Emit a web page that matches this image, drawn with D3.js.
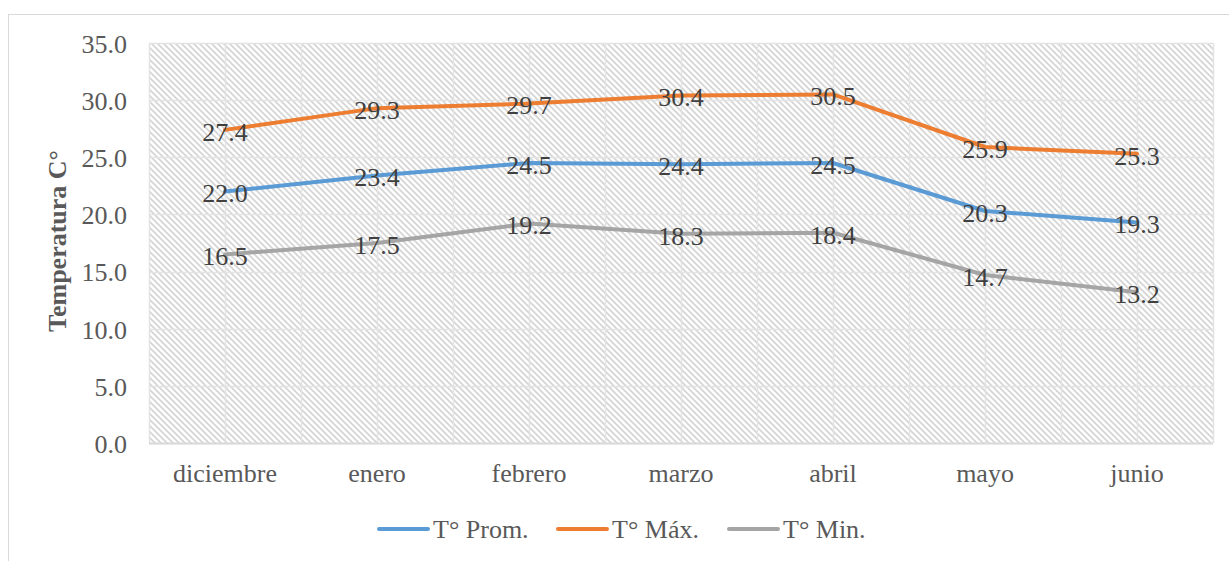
<!DOCTYPE html>
<html>
<head>
  <meta charset="utf-8">
  <style>
    body { margin: 0; background: #fff; }
    svg, svg text { font-family: 'Liberation Serif', serif; }
  </style>
</head>
<body>
  <div id="chart"></div>
  <script src="https://d3js.org/d3.v7.min.js"></script>
  <script>
    var months = ['diciembre', 'enero', 'febrero', 'marzo', 'abril', 'mayo', 'junio'];
    var tProm = [22.0, 23.4, 24.5, 24.4, 24.5, 20.3, 19.3];
    var tMax = [27.4, 29.3, 29.7, 30.4, 30.5, 25.9, 25.3];
    var tMin = [16.5, 17.5, 19.2, 18.3, 18.4, 14.7, 13.2];
    var yTicks = [0, 5, 10, 15, 20, 25, 30, 35];

    var series = [
      { name: 'T° Prom.', values: tProm, color: '#5b9bd5' },
      { name: 'T° Máx.', values: tMax, color: '#ed7d31' },
      { name: 'T° Min.', values: tMin, color: '#a5a5a5' }
    ];

    var width = 1229, height = 561;
    var plot = { left: 149, right: 1213, top: 43, bottom: 443 };
    var fontSize = '26px';
    var fontFam = "'Liberation Serif', serif";

    var svg = d3.select('#chart').append('svg')
      .attr('width', width)
      .attr('height', height)
      .style('font-family', fontFam);

    // hatch pattern for plot background
    var pat = svg.append('defs').append('pattern')
      .attr('id', 'hatch')
      .attr('patternUnits', 'userSpaceOnUse')
      .attr('width', 6)
      .attr('height', 6);
    pat.append('rect').attr('width', 6).attr('height', 6).attr('fill', '#fff');
    pat.append('path')
      .attr('d', 'M-1,-1 L7,7 M-1,5 L1,7 M5,-1 L7,1')
      .attr('stroke', '#d4d4d4')
      .attr('stroke-width', 1.6);

    // outer chart border
    svg.append('rect')
      .attr('x', 8.5).attr('y', 14.5)
      .attr('width', width + 10).attr('height', height + 10)
      .attr('fill', 'none')
      .attr('stroke', '#d9d9d9');

    var x = d3.scaleBand()
      .domain(months)
      .range([plot.left, plot.right]);

    var y = d3.scaleLinear()
      .domain([0, 35])
      .range([plot.bottom, plot.top]);

    svg.append('rect')
      .attr('x', plot.left).attr('y', plot.top)
      .attr('width', plot.right - plot.left)
      .attr('height', plot.bottom - plot.top)
      .attr('fill', 'url(#hatch)');

    // gridlines: horizontal at ticks, vertical at band centers and edges
    var grid = svg.append('g').attr('stroke', '#e3e3e3').attr('stroke-width', 1.5);
    grid.selectAll('.h').data(yTicks).enter().append('line')
      .attr('x1', plot.left).attr('x2', plot.right)
      .attr('y1', function(d) { return Math.round(y(d)) + 0.5; })
      .attr('y2', function(d) { return Math.round(y(d)) + 0.5; });
    var vx = [];
    months.forEach(function(m) { vx.push(x(m)); vx.push(x(m) + x.bandwidth() / 2); });
    vx.push(plot.right);
    grid.selectAll('.v').data(vx).enter().append('line')
      .attr('x1', function(d) { return Math.round(d) + 0.5; })
      .attr('x2', function(d) { return Math.round(d) + 0.5; })
      .attr('y1', plot.top).attr('y2', plot.bottom);

    // bottom axis line
    svg.append('line')
      .attr('x1', plot.left).attr('x2', plot.right)
      .attr('y1', plot.bottom + 0.5).attr('y2', plot.bottom + 0.5)
      .attr('stroke', '#d9d9d9').attr('stroke-width', 2);

    // y axis
    var yAxis = svg.append('g')
      .attr('transform', 'translate(' + (plot.left - 19) + ',0)')
      .call(d3.axisLeft(y).tickValues(yTicks).tickFormat(d3.format('.1f')).tickSize(0));
    yAxis.attr('font-family', null).attr('font-size', null);
    yAxis.select('.domain').remove();
    yAxis.selectAll('text')
      .style('font-family', fontFam)
      .style('font-size', fontSize)
      .attr('fill', '#595959')
      .attr('dy', '0.36em');

    // x axis
    var xAxis = svg.append('g')
      .attr('transform', 'translate(0,' + plot.bottom + ')')
      .call(d3.axisBottom(x).tickSize(0));
    xAxis.attr('font-family', null).attr('font-size', null);
    xAxis.select('.domain').remove();
    xAxis.selectAll('text')
      .style('font-family', fontFam)
      .style('font-size', fontSize)
      .attr('fill', '#595959')
      .attr('y', 39)
      .attr('dy', 0);

    // y title
    svg.append('text')
      .attr('transform', 'translate(66,' + 241 + ') rotate(-90)')
      .attr('text-anchor', 'middle')
      .style('font-size', fontSize)
      .style('font-weight', 'bold')
      .attr('fill', '#595959')
      .text('Temperatura C°');

    var line = d3.line()
      .x(function(d, i) { return x(months[i]) + x.bandwidth() / 2; })
      .y(function(d) { return y(d); });

    svg.selectAll('.series').data(series).enter().append('path')
      .attr('d', function(s) { return line(s.values); })
      .attr('fill', 'none')
      .attr('stroke', function(s) { return s.color; })
      .attr('stroke-width', 4)
      .attr('stroke-linejoin', 'round')
      .attr('stroke-linecap', 'round');

    // data labels centered on points
    series.forEach(function(s) {
      svg.selectAll(null).data(s.values).enter().append('text')
        .attr('x', function(d, i) { return x(months[i]) + x.bandwidth() / 2; })
        .attr('y', function(d) { return y(d); })
        .attr('dy', '0.42em')
        .attr('text-anchor', 'middle')
        .attr('fill', '#404040')
        .style('font-size', fontSize)
        .text(function(d) { return d.toFixed(1); });
    });

    // legend
    var legendX = [377, 556, 727];
    var lg = svg.selectAll('.legend').data(series).enter().append('g')
      .attr('transform', function(d, i) { return 'translate(' + legendX[i] + ',529)'; });
    lg.append('line')
      .attr('x1', 2).attr('x2', 51)
      .attr('stroke', function(d) { return d.color; })
      .attr('stroke-width', 4)
      .attr('stroke-linecap', 'round');
    lg.append('text')
      .attr('x', 56)
      .attr('dy', '0.35em')
      .style('font-size', fontSize)
      .attr('fill', '#595959')
      .text(function(d) { return d.name; });
  </script>
</body>
</html>
